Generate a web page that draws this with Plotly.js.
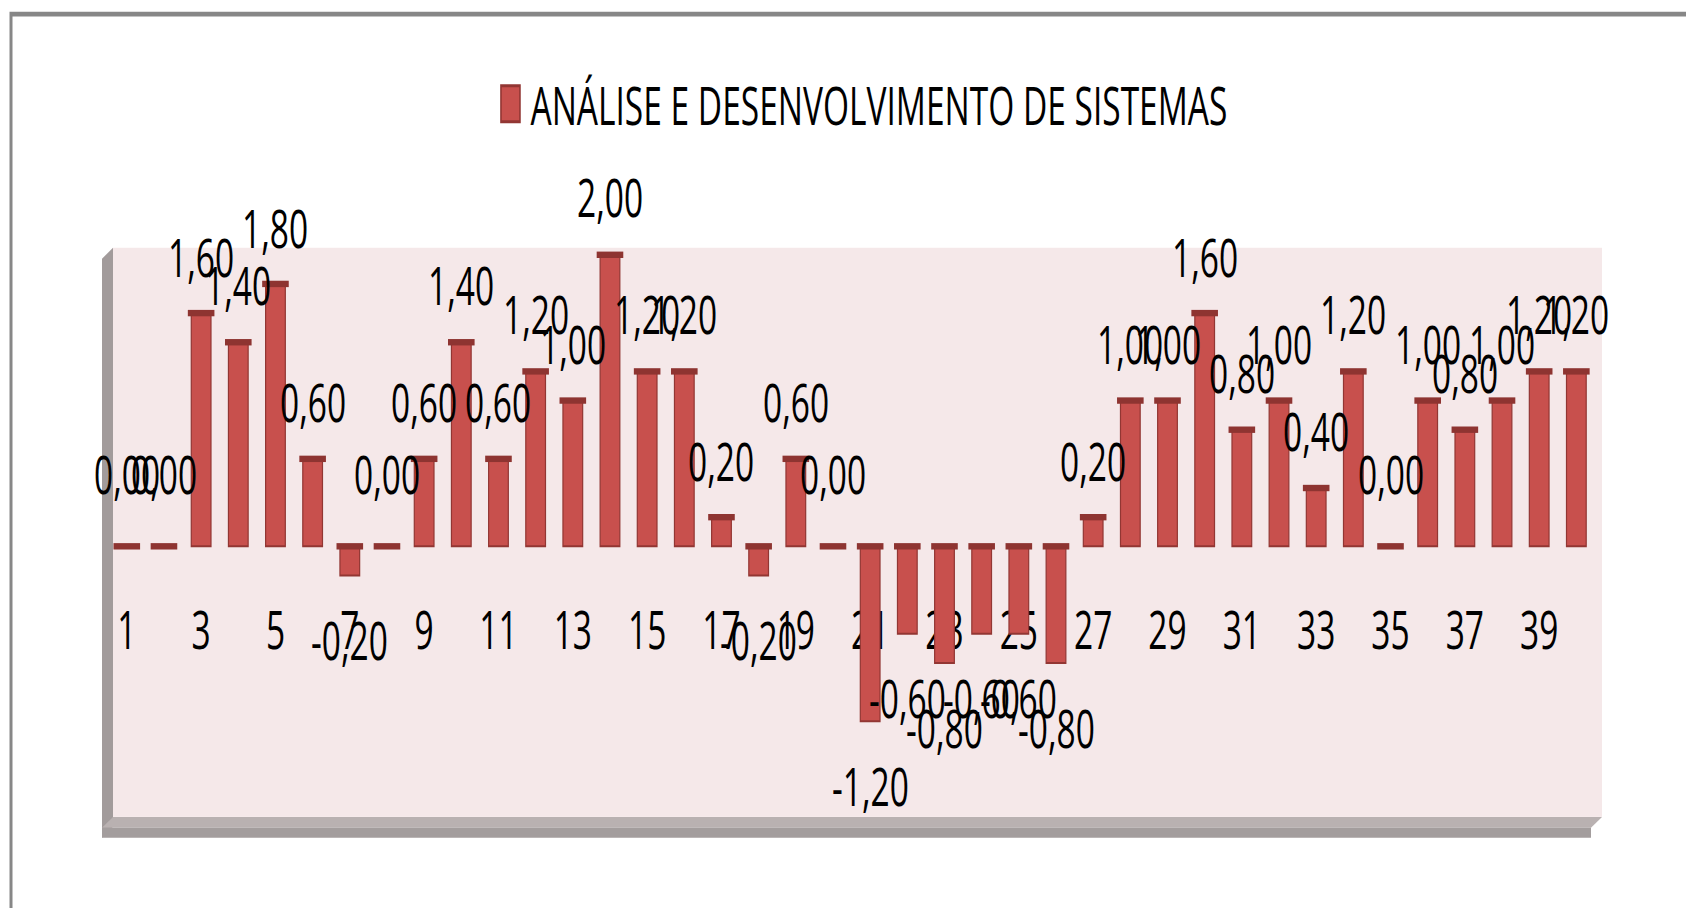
<!DOCTYPE html>
<html>
<head>
<meta charset="utf-8">
<script src="https://cdn.plot.ly/plotly-3.0.1.min.js"></script>
<style>
  html, body { margin: 0; padding: 0; background: #ffffff; overflow: hidden; }
  #wrap { width: 1686px; height: 908px; overflow: hidden; position: relative; background: #fff; }
  #chart { width: 1686px; height: 568px; transform-origin: 0 0; }
</style>
</head>
<body>
<div id="wrap"><div id="chart"></div></div>
<script>
// ---- data ----
const categories = [1,2,3,4,5,6,7,8,9,10,11,12,13,14,15,16,17,18,19,20,
                    21,22,23,24,25,26,27,28,29,30,31,32,33,34,35,36,37,38,39,40];
const values = [0.00, 0.00, 1.60, 1.40, 1.80, 0.60, -0.20, 0.00, 0.60, 1.40,
                0.60, 1.20, 1.00, 2.00, 1.20, 1.20, 0.20, -0.20, 0.60, 0.00,
                -1.20, -0.60, -0.80, -0.60, -0.60, -0.80, 0.20, 1.00, 1.00, 1.60,
                0.80, 1.00, 0.40, 1.20, 0.00, 1.00, 0.80, 1.00, 1.20, 1.20];
const seriesName = 'ANÁLISE E DESENVOLVIMENTO DE SISTEMAS';
const tickValues = [1,3,5,7,9,11,13,15,17,19,21,23,25,27,29,31,33,35,37,39];
const tickLabels = ['1','3','5','7','9','11','13','15','17','19','21','23','25','27','29','31','33','35','37','39'];

// ---- geometry (Excel chart stretched vertically) ----
const W = 1686, H = 568, S = 908 / H;
document.getElementById('chart').style.transform = 'scaleY(' + S + ')';
const FONT = '"Open Sans", "Liberation Sans", sans-serif';
const FS = 33.5;
// plot area in final (stretched) pixels
const PX0 = 113, PX1 = 1602, PY0 = 247, PY1 = 817;
const yRange = [-1.856, 2.048];
const xRange = [0.629, 40.69];
const zeroPos = (0 - yRange[0]) / (yRange[1] - yRange[0]);

function P(x, y) { // final pixel -> paper coords
  return ((x - PX0) / (PX1 - PX0)).toFixed(5) + ',' + ((PY1 - y) / (PY1 - PY0)).toFixed(5);
}
function fmt(v) { return v.toFixed(2).replace('.', ','); }

const bars = {
  type: 'bar',
  name: seriesName,
  x: categories,
  y: values,
  marker: { color: '#C8504D', line: { color: '#923633', width: 1.2 } },
  hoverinfo: 'x+y'
};
const caps = {
  type: 'scatter',
  mode: 'markers',
  x: categories,
  y: values.map(v => Math.max(v, 0)),
  marker: { symbol: 'line-ew', size: 19, line: { color: '#8E3431', width: 4 } },
  showlegend: false,
  hoverinfo: 'skip',
  cliponaxis: false
};

const annotations = categories.map((c, i) => ({
  x: c, y: values[i], xref: 'x', yref: 'y',
  text: fmt(values[i]), showarrow: false,
  yanchor: 'middle', xanchor: 'center',
  yshift: values[i] < 0 ? -40 : (values[i] === 0 ? 46 : 36),
  font: { family: FONT, size: FS, color: '#000000' }
}));

const shapes = [
  // outer frame
  { type: 'rect', xref: 'paper', yref: 'paper', x0: (11 - PX0) / (PX1 - PX0), x1: 1.3,
    y0: -0.5, y1: (PY1 - 13) / (PY1 - PY0), line: { color: '#878787', width: 3 }, fillcolor: 'rgba(0,0,0,0)', layer: 'below' },
  // side wall
  { type: 'path', xref: 'paper', yref: 'paper', layer: 'below',
    path: 'M' + P(113, 247) + 'L' + P(102, 258) + 'L' + P(102, 838) + 'L' + P(113, 827) + 'Z',
    fillcolor: '#A29B9B', line: { width: 0 } },
  // floor top
  { type: 'path', xref: 'paper', yref: 'paper', layer: 'below',
    path: 'M' + P(113, 817) + 'L' + P(1602, 817) + 'L' + P(1591, 828) + 'L' + P(102, 828) + 'Z',
    fillcolor: '#B9B1B1', line: { width: 0 } },
  // floor front
  { type: 'path', xref: 'paper', yref: 'paper', layer: 'below',
    path: 'M' + P(102, 828) + 'L' + P(1591, 828) + 'L' + P(1591, 838) + 'L' + P(102, 838) + 'Z',
    fillcolor: '#A39D9D', line: { width: 0 } }
];

const layout = {
  width: W, height: H,
  margin: { l: PX0, r: W - PX1, t: PY0 / S, b: H - PY1 / S, pad: 0 },
  paper_bgcolor: '#ffffff',
  plot_bgcolor: '#F5E8E9',
  font: { family: FONT, size: FS, color: '#000000' },
  bargap: 0.47,
  showlegend: true,
  legend: {
    orientation: 'h', x: 0.503, xanchor: 'center', y: (PY1 - 103) / (PY1 - PY0), yanchor: 'middle',
    font: { family: FONT, size: FS, color: '#000000' }, bgcolor: 'rgba(0,0,0,0)'
  },
  xaxis: {
    range: xRange, anchor: 'free', position: zeroPos,
    tickmode: 'array', tickvals: tickValues, ticktext: tickLabels,
    ticks: 'outside', ticklen: 23, tickcolor: 'rgba(0,0,0,0)',
    showline: false, showgrid: false, zeroline: false,
    tickfont: { family: FONT, size: FS, color: '#000000' },
    layer: 'below traces', fixedrange: true
  },
  yaxis: {
    range: yRange, showticklabels: false, showgrid: false, zeroline: false,
    ticks: '', showline: false, fixedrange: true
  },
  annotations: annotations,
  shapes: shapes
};

Plotly.newPlot('chart', [bars, caps], layout, { displayModeBar: false, staticPlot: true }).then(function () {
  // enlarge the legend swatch (about its own centre) to match the reference's tall red square
  document.querySelectorAll('#chart .legendpoints path').forEach(function (p) {
    const b = p.getBBox();
    if (!b.width || !b.height) return;
    const cx = b.x + b.width / 2, cy = b.y + b.height / 2;
    const sx = 19 / b.width, sy = (36 / S) / b.height;
    const prev = p.getAttribute('transform') || '';
    p.setAttribute('transform', prev + ' translate(' + cx + ',' + cy + ') scale(' + sx + ',' + sy + ') translate(' + (-cx) + ',' + (-cy) + ')');
    p.style.strokeWidth = '1px';
  });
});
</script>
</body>
</html>
